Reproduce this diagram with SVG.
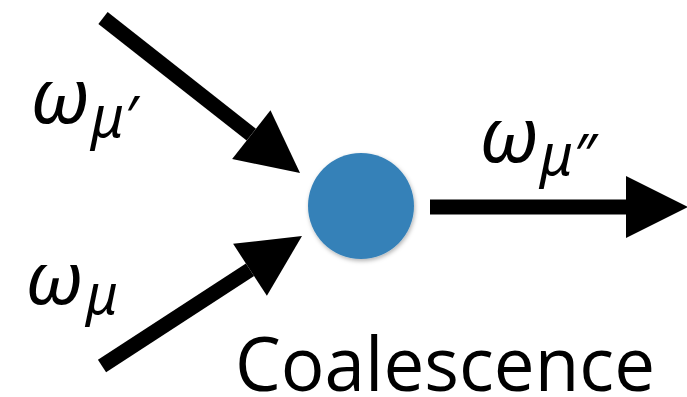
<svg xmlns="http://www.w3.org/2000/svg" width="687" height="397" viewBox="0 0 687 397">
  <defs>
    <marker id="head" markerUnits="userSpaceOnUse" orient="auto" markerWidth="64" markerHeight="64" viewBox="0 -32 62 64" refX="0" refY="0" overflow="visible">
      <path d="M0,-31 L62,0 L0,31 Z" fill="#000"/>
    </marker>
    <filter id="soft" x="-20%" y="-20%" width="140%" height="140%">
      <feDropShadow dx="1" dy="2" stdDeviation="2" flood-color="#000" flood-opacity="0.3"/>
    </filter>
  </defs>
  <style>
    .conn { stroke: #000; stroke-width: 15; fill: none; marker-end: url(#head); }
    .sym { font-family: "Noto Sans", "DejaVu Sans", sans-serif; font-style: italic; fill: #000; }
    .label { font-family: "Open Sans", "Liberation Sans", sans-serif; fill: #000; }
  </style>
  <rect width="687" height="397" fill="#fff"/>

  <!-- incoming and outgoing flows -->
  <g id="connectors">
    <line class="conn" x1="103" y1="18" x2="251.3" y2="134.7"/>
    <line class="conn" x1="102" y1="366" x2="250" y2="269.8"/>
    <line class="conn" x1="430" y1="207" x2="626" y2="207"/>
  </g>

  <!-- coalescence point -->
  <g id="node-coalescence">
    <circle cx="361" cy="206" r="53" fill="#3681b8" filter="url(#soft)"/>
  </g>

  <g id="label-in-upper">
    <text class="sym" x="30" y="123" font-size="76">ω</text>
    <text class="sym" x="91" y="137" font-size="56">μ′</text>
  </g>
  <g id="label-in-lower">
    <text class="sym" x="25" y="304" font-size="74">ω</text>
    <text class="sym" x="86" y="314" font-size="54">μ</text>
  </g>
  <g id="label-out">
    <text class="sym" x="479" y="162" font-size="76">ω</text>
    <text class="sym" x="540" y="175" font-size="56">μ″</text>
  </g>
  <g id="label-caption">
    <text class="label" x="235" y="391" font-size="75" textLength="420" lengthAdjust="spacingAndGlyphs">Coalescence</text>
  </g>
</svg>
